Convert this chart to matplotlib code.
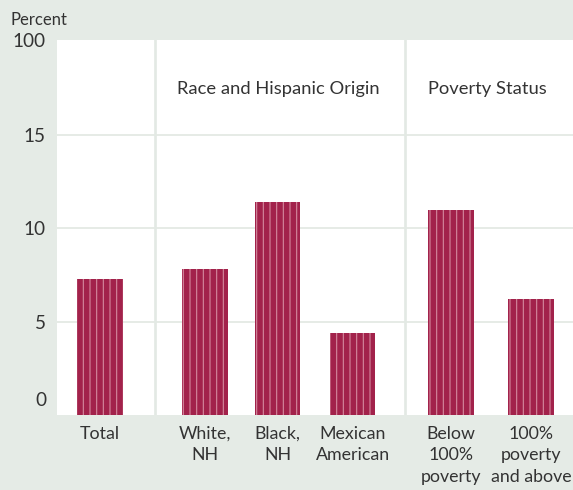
import matplotlib
matplotlib.use("Agg")
import matplotlib.pyplot as plt
from matplotlib.transforms import ScaledTranslation

# ---- data ----
categories = ["Total", "White,\nNH", "Black,\nNH", "Mexican\nAmerican",
              "Below\n100%\npoverty", "100%\npoverty\nand above"]
values = [7.3, 7.8, 11.4, 4.4, 11.0, 6.2]
group_labels = ["Race and Hispanic Origin", "Poverty Status"]
ytick_values = [0, 5, 10, 15, 20.1]
ytick_labels = ["0", "5", "10", "15", "100"]
ylabel = "Percent"

# ---- layout ----
positions = [0, 1.4, 2.37, 3.37, 4.68, 5.75]
separators = [0.733, 4.07]
group_centers = [2.38, 5.17]

BG = "#e5ebe6"
GRID = "#e3e9e4"
BAR = "#a2224b"
STRIPE = "#d48a9f"
TXT = "#333333"

plt.rcParams["font.family"] = ["Lato", "DejaVu Sans"]
plt.rcParams["hatch.linewidth"] = 1.0
plt.rcParams["hatch.color"] = STRIPE

W, H, DPI = 573, 490, 80
fig = plt.figure(figsize=(W / DPI, H / DPI), dpi=DPI, facecolor=BG)
ax = fig.add_axes([57 / W, 1 - 415 / H, (W - 57) / W, (415 - 40) / H])
ax.set_facecolor("white")
ax.set_xlim(-0.573, 6.31)
ax.set_ylim(0, 20.1)

for y in ytick_values[1:-1]:
    ax.axhline(y, color=GRID, lw=1.6, zorder=1)
for s in separators:
    ax.axvline(s, color=GRID, lw=2.4, zorder=1)

ax.bar(positions, values, width=0.61, color=BAR, hatch="||",
       edgecolor=STRIPE, linewidth=0, zorder=3)

for gx, gl in zip(group_centers, group_labels):
    ax.text(gx, 17.5, gl, ha="center", va="center", fontsize=16.5, color=TXT)

for sp in ax.spines.values():
    sp.set_visible(False)
ax.tick_params(length=0)

ax.set_xticks(positions)
ax.set_xticklabels(categories, fontsize=16, color=TXT, linespacing=1.45)
ax.tick_params(axis="x", pad=9.5)

ax.set_yticks(ytick_values)
ax.set_yticklabels(ytick_labels, fontsize=17, color=TXT)
ax.tick_params(axis="y", pad=10)
for lbl in ax.get_yticklabels():
    if lbl.get_text() == "0":
        lbl.set_transform(lbl.get_transform() +
                          ScaledTranslation(0, 16 / DPI, fig.dpi_scale_trans))

fig.text(10 / W, 1 - 20 / H, ylabel, ha="left", va="center", fontsize=15, color=TXT)

fig.savefig("out.png", dpi=DPI, facecolor=BG)
